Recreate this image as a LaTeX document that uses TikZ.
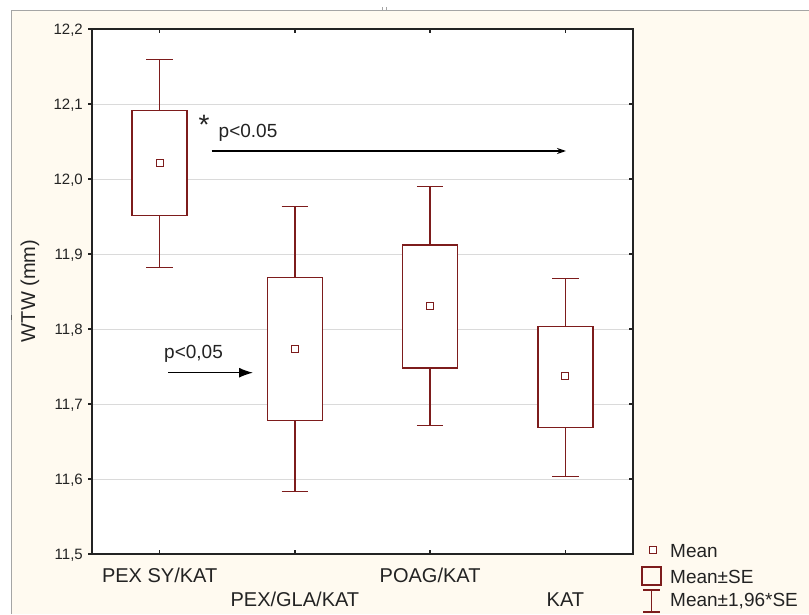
\documentclass[tikz,border=0pt]{standalone}
\usepackage{fontspec}
\setmainfont{Liberation Sans}
\usetikzlibrary{arrows.meta}
\definecolor{boxred}{RGB}{125,28,28}
\definecolor{cream}{RGB}{255,250,240}
\definecolor{gridgray}{RGB}{218,218,218}
\definecolor{inkgray}{RGB}{35,35,35}
\definecolor{framegray}{RGB}{165,165,165}
\begin{document}
\begin{tikzpicture}[x=1pt, y=1pt,
   ticklabel/.style={font=\fontsize{15}{18}\selectfont, text=inkgray, anchor=base east, inner sep=0pt},
   catlabel/.style={font=\fontsize{20}{24}\selectfont, text=inkgray, anchor=base, inner sep=0pt},
   keylabel/.style={font=\fontsize{19}{23}\selectfont, text=inkgray, anchor=base west, inner sep=0pt},
   note/.style={font=\fontsize{19}{23}\selectfont, text=inkgray, anchor=base west, inner sep=0pt},
   seline/.style={draw=boxred, line width=1.3pt},
   sebox/.style={seline, fill=white},
   meanmark/.style={draw=boxred, line width=1pt, fill=white, minimum size=7pt, inner sep=0pt},
   axisline/.style={draw=inkgray, line width=1.3pt},
   pointer/.style={line width=1.3pt, -{Stealth[length=9pt, width=6pt]}},
   bigpointer/.style={line width=1.3pt, -{Latex[length=14pt, width=10pt]}}]

\useasboundingbox (0,0) rectangle (809,614);
\fill[cream] (11,0) rectangle (809,604);
\draw[framegray] (11,0) -- (11,604) -- (809,604);
\draw[framegray!60!black, line width=1pt] (11,294) -- (11,299);
\draw[framegray] (379,604) -- (382,604) -- (382,607) (386,607) -- (386,604) -- (389,604);

\begin{scope}[shift={(92,-8565)}, x=135.25pt, y=750pt]
  \fill[white] (0,11.5) rectangle (4,12.2);
  \foreach \v/\t in {11.5/{11,5}, 11.6/{11,6}, 11.7/{11,7}, 11.8/{11,8}, 11.9/{11,9}, 12.0/{12,0}, 12.1/{12,1}, 12.2/{12,2}} {
    \draw[gridgray] (0,\v) -- (4,\v);
    \draw[axisline] (0,\v) -- ++(-4pt,0pt);
    \draw[axisline] (4,\v) -- ++(-4pt,0pt);
    \node[ticklabel] at ([xshift=-9pt, yshift=-5.4pt]0,\v) {\t};
  }
  \foreach \c/\lo/\bl/\m/\bh/\hi [count=\k] in {
      0.5/11.882/11.951/12.021/12.091/12.159,
      1.5/11.583/11.678/11.773/11.869/11.963,
      2.5/11.671/11.748/11.831/11.912/11.990,
      3.5/11.603/11.669/11.737/11.803/11.867} {
    \draw[seline] ([xshift=-13.3pt]\c,\lo) -- ([xshift=13.3pt]\c,\lo)
                  (\c,\lo) -- (\c,\bl) (\c,\bh) -- (\c,\hi)
                  ([xshift=-13.3pt]\c,\hi) -- ([xshift=13.3pt]\c,\hi);
    \draw[sebox] ([xshift=-27.5pt]\c,\bl) rectangle ([xshift=27.5pt]\c,\bh);
    \node[meanmark] (mean\k) at (\c,\m) {};
    \draw[axisline] (\c,12.2) -- ++(0pt,-4pt);
    \draw[axisline] (\c,11.5) -- ++(0pt,4pt);
  }
  \draw[axisline] (0,11.5) rectangle (4,12.2);
  \node[catlabel] (pexsy)  at ([yshift=-28pt]0.5,11.5) {PEX SY/KAT};
  \node[catlabel] (pexgla) at ([yshift=-52pt]1.5,11.5) {PEX/GLA/KAT};
  \node[catlabel] (poag)   at ([yshift=-28pt]2.5,11.5) {POAG/KAT};
  \node[catlabel] (kat)    at ([yshift=-52pt]3.5,11.5) {KAT};
\end{scope}

\node[rotate=90, font=\fontsize{20}{24}\selectfont, text=inkgray, inner sep=0pt] (ylab) at (30,323) {WTW (mm)};

\node[note, anchor=base, font=\fontsize{28}{32}\selectfont] (star) at (204,479) {*};
\node[note] (plat) at (218.5,476) {p<0.05};
\coordinate (latfrom) at (211.7,463);
\coordinate (latto) at (566,463);
\draw[pointer] (latfrom) -- (latto);
\node[note] (pcom) at (164,255) {p<0,05};
\coordinate (comfrom) at (168,241.3);
\coordinate (comto) at (253,241.3);
\draw[bigpointer] (comfrom) -- (comto);

\node[meanmark] (keymean) at (653,64) {};
\draw[seline] (642,29) rectangle (661,47);
\draw[seline] (643,24) -- (660,24) (651.5,24) -- (651.5,2) (643,2) -- (660,2);
\node[keylabel] (kmean) at (670,57) {Mean};
\node[keylabel] (kse)   at (670,31) {Mean±SE};
\node[keylabel] (kci)   at (670,8)  {Mean±1,96*SE};
\end{tikzpicture}
\end{document}
